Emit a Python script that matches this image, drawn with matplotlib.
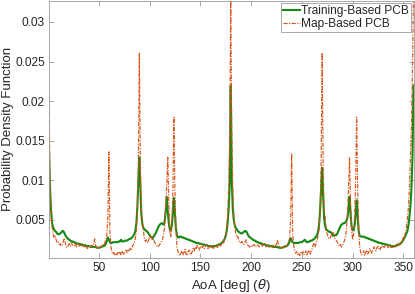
import matplotlib
matplotlib.use('Agg')
import matplotlib.pyplot as plt
import numpy as np

plt.rcParams['font.family'] = ['Liberation Sans', 'DejaVu Sans']

# AoA grid 1..360 deg, PDF values in units of 1e-3
angles = np.arange(1, 361)

training = [
    13.8, 9.0, 6.3, 4.6, 4.1, 3.8, 3.6, 3.5, 3.3, 3.2,
    3.2, 3.3, 3.4, 3.6, 3.6, 3.4, 3.1, 2.9, 2.7, 2.6,
    2.5, 2.4, 2.3, 2.3, 2.2, 2.2, 2.1, 2.1, 2.0, 2.0,
    2.0, 1.9, 1.9, 1.9, 1.8, 1.8, 1.8, 1.7, 1.7, 1.7,
    1.7, 1.6, 1.6, 1.6, 1.6, 1.6, 1.6, 1.5, 1.5, 1.5,
    1.5, 1.6, 1.6, 1.7, 1.7, 1.8, 2.0, 2.4, 2.8, 2.5,
    2.2, 2.1, 2.1, 2.2, 2.2, 2.2, 2.2, 2.2, 2.2, 2.3,
    2.3, 2.5, 2.3, 2.3, 2.3, 2.4, 2.4, 2.4, 2.5, 2.6,
    2.6, 2.7, 2.8, 3.0, 3.2, 3.6, 4.5, 6.5, 10.0, 12.9,
    9.0, 5.6, 4.4, 4.0, 3.8, 3.7, 3.6, 3.5, 3.3, 3.1,
    2.9, 2.8, 2.7, 2.9, 3.1, 3.3, 3.6, 3.9, 4.2, 4.4,
    4.5, 4.6, 4.5, 4.4, 4.9, 6.2, 7.9, 6.0, 4.6, 3.8,
    3.7, 4.3, 5.8, 7.8, 5.8, 3.9, 3.1, 2.8, 2.8, 2.9,
    2.9, 2.8, 2.8, 2.7, 2.7, 2.6, 2.6, 2.5, 2.5, 2.4,
    2.4, 2.3, 2.3, 2.2, 2.2, 2.1, 2.1, 2.1, 2.0, 2.0,
    2.0, 1.9, 1.9, 1.9, 1.8, 1.8, 1.8, 1.7, 1.7, 1.7,
    1.7, 1.6, 1.7, 1.7, 1.7, 1.8, 1.8, 1.9, 1.9, 2.0,
    2.1, 2.2, 2.4, 2.6, 3.0, 3.6, 4.8, 6.5, 9.6, 22.0,
    10.0, 6.4, 5.0, 4.3, 4.0, 3.8, 3.6, 3.5, 3.4, 3.3,
    3.3, 3.4, 3.5, 3.6, 3.6, 3.4, 3.1, 2.9, 2.8, 2.7,
    2.6, 2.5, 2.4, 2.4, 2.3, 2.2, 2.2, 2.1, 2.1, 2.0,
    2.0, 1.9, 1.9, 1.9, 1.8, 1.8, 1.8, 1.7, 1.7, 1.7,
    1.7, 1.6, 1.6, 1.6, 1.6, 1.6, 1.5, 1.5, 1.5, 1.5,
    1.5, 1.6, 1.6, 1.7, 1.7, 1.8, 2.0, 2.3, 2.7, 2.4,
    2.2, 2.1, 2.1, 2.1, 2.1, 2.1, 2.1, 2.2, 2.2, 2.2,
    2.3, 2.4, 2.5, 2.3, 2.2, 2.2, 2.3, 2.3, 2.4, 2.4,
    2.5, 2.6, 2.7, 2.9, 3.1, 3.5, 4.4, 6.2, 9.0, 11.6,
    8.0, 5.2, 4.2, 3.8, 3.7, 3.6, 3.5, 3.5, 3.4, 3.2,
    3.0, 3.0, 3.1, 3.1, 3.3, 3.6, 3.9, 4.2, 4.4, 4.5,
    4.6, 4.6, 4.7, 4.9, 5.3, 6.4, 7.9, 5.8, 4.2, 3.7,
    3.7, 4.3, 5.6, 7.5, 5.5, 3.6, 3.0, 2.9, 2.9, 2.9,
    2.9, 2.8, 2.8, 2.7, 2.7, 2.6, 2.6, 2.5, 2.5, 2.4,
    2.4, 2.3, 2.3, 2.2, 2.2, 2.1, 2.1, 2.1, 2.0, 2.0,
    2.0, 1.9, 1.9, 1.9, 1.8, 1.8, 1.8, 1.7, 1.7, 1.7,
    1.7, 1.7, 1.8, 1.8, 1.9, 1.9, 2.0, 2.1, 2.3, 2.5,
    2.7, 3.0, 3.3, 3.6, 4.3, 5.4, 6.8, 9.0, 13.0, 22.0,
]

map_based = [
    20.7, 9.5, 5.8, 4.2, 3.3, 2.8, 3.0, 2.5, 2.2, 2.3,
    1.9, 2.0, 1.7, 1.8, 2.2, 2.7, 2.1, 1.6, 1.5, 1.8,
    2.0, 1.7, 2.1, 1.9, 1.7, 1.8, 2.0, 1.6, 2.1, 2.0,
    1.7, 1.9, 1.6, 1.8, 1.7, 1.6, 1.9, 1.5, 1.4, 1.6,
    1.7, 1.5, 1.8, 1.7, 2.0, 2.6, 1.8, 1.5, 1.4, 1.6,
    1.5, 1.7, 1.6, 1.9, 1.8, 2.1, 2.6, 3.2, 5.5, 13.6,
    3.5, 1.6, 1.0, 0.7, 0.9, 0.5, 0.8, 0.6, 1.0, 0.7,
    0.9, 0.6, 1.1, 0.8, 0.6, 1.0, 1.2, 0.9, 1.3, 1.1,
    1.4, 1.2, 1.6, 1.9, 2.1, 2.6, 3.6, 6.0, 12.0, 26.1,
    12.0, 6.2, 4.8, 3.6, 2.6, 2.3, 2.5, 2.1, 2.4, 2.9,
    3.1, 2.8, 2.4, 2.6, 2.2, 2.0, 1.8, 1.6, 1.7, 1.9,
    2.1, 2.3, 2.6, 3.4, 4.2, 6.5, 9.5, 12.9, 7.0, 3.5,
    2.8, 4.6, 8.5, 18.0, 9.0, 4.0, 1.6, 1.0, 0.7, 0.5,
    0.8, 1.1, 0.6, 0.9, 1.3, 0.7, 0.5, 1.0, 1.2, 0.8,
    0.6, 1.0, 1.4, 1.1, 1.6, 1.3, 1.8, 1.5, 1.2, 1.6,
    1.9, 1.5, 1.7, 1.4, 1.6, 1.9, 1.5, 1.3, 1.6, 1.8,
    1.5, 1.7, 1.4, 1.6, 1.9, 1.7, 1.5, 1.8, 2.0, 1.7,
    2.0, 2.3, 2.1, 2.6, 3.0, 3.8, 5.5, 9.5, 15.2, 32.7,
    16.0, 9.0, 5.6, 4.0, 3.3, 2.8, 2.9, 2.4, 2.2, 2.1,
    2.3, 2.0, 1.9, 2.2, 2.5, 2.0, 1.8, 1.7, 1.5, 1.7,
    1.6, 1.8, 1.9, 1.6, 1.7, 1.9, 1.8, 1.6, 1.9, 2.0,
    1.7, 1.9, 2.1, 1.8, 1.6, 1.7, 1.8, 1.5, 1.6, 1.7,
    1.5, 1.8, 1.6, 1.7, 2.0, 2.5, 1.8, 1.6, 1.4, 1.5,
    1.6, 1.4, 1.7, 1.8, 1.6, 2.0, 2.2, 2.7, 5.0, 13.4,
    3.3, 1.8, 1.1, 0.8, 1.0, 0.6, 0.8, 0.5, 0.9, 0.7,
    1.0, 0.6, 0.8, 1.1, 0.5, 0.9, 1.2, 0.7, 1.0, 1.3,
    1.8, 2.1, 1.6, 2.0, 2.4, 3.0, 3.8, 6.0, 12.0, 26.1,
    12.0, 6.0, 5.5, 3.6, 3.2, 2.8, 2.6, 2.7, 3.1, 3.4,
    3.5, 2.9, 2.6, 2.4, 2.2, 1.9, 1.7, 1.9, 1.6, 1.8,
    2.1, 2.4, 2.9, 3.9, 5.8, 9.0, 12.9, 7.0, 3.8, 2.5,
    3.2, 5.5, 9.8, 18.0, 9.0, 4.0, 1.6, 0.9, 0.6, 0.8,
    1.1, 0.5, 0.9, 1.2, 0.7, 1.0, 1.4, 1.1, 0.8, 1.2,
    1.6, 1.3, 1.1, 1.5, 1.7, 1.4, 1.2, 1.6, 1.5, 1.8,
    1.5, 1.7, 1.9, 1.6, 1.5, 1.8, 1.6, 1.4, 1.7, 1.5,
    1.8, 1.6, 1.7, 2.0, 1.8, 1.7, 2.2, 2.0, 2.4, 2.8,
    2.6, 3.3, 4.0, 5.2, 6.6, 9.0, 13.0, 17.0, 24.0, 33.5,
]

x_ticks = [50, 100, 150, 200, 250, 300, 350]
y_ticks = [0.005, 0.01, 0.015, 0.02, 0.025, 0.03]
y_tick_labels = ['0.005', '0.01', '0.015', '0.02', '0.025', '0.03']

training = np.array(training) * 1e-3
map_based = np.array(map_based) * 1e-3

fig = plt.figure(figsize=(4.15, 2.94), dpi=100)
ax = fig.add_axes([49 / 415, 36 / 294, 364.5 / 415, 257.5 / 294])

ax.plot(angles, training, color='#138a13', linewidth=1.5, label='Training-Based PCB')
ax.plot(angles, map_based, color='#D95319', linewidth=0.85, dashes=[3.5, 1.2, 1, 1.2],
        label='Map-Based PCB')

ax.set_xlim(1, 360)
ax.set_ylim(0.0002, 0.0327)
ax.set_xticks(x_ticks)
ax.set_yticks(y_ticks)
ax.set_yticklabels(y_tick_labels)

txt = '#262626'
for s in ax.spines.values():
    s.set_color('#9a9a9a')
    s.set_linewidth(0.6)
ax.tick_params(direction='in', length=3.5, width=0.6, color='#9a9a9a',
               labelcolor=txt, labelsize=8.6, top=True, right=True, pad=3)

ax.set_xlabel(r'AoA [deg] ($\theta$)', fontsize=9.5, color=txt, labelpad=2)
ax.set_ylabel('Probability Density Function', fontsize=9.5, color=txt)
ax.yaxis.set_label_coords(-0.097, 0.5)

leg = ax.legend(loc='upper right', fontsize=8.6, fancybox=False, framealpha=1,
                edgecolor='#9a9a9a', handlelength=1.4, handletextpad=0.1,
                borderpad=0.15, labelspacing=0.1, borderaxespad=0.25)
leg.get_frame().set_linewidth(0.6)
for t in leg.get_texts():
    t.set_color(txt)

fig.savefig('out.png', dpi=100)
